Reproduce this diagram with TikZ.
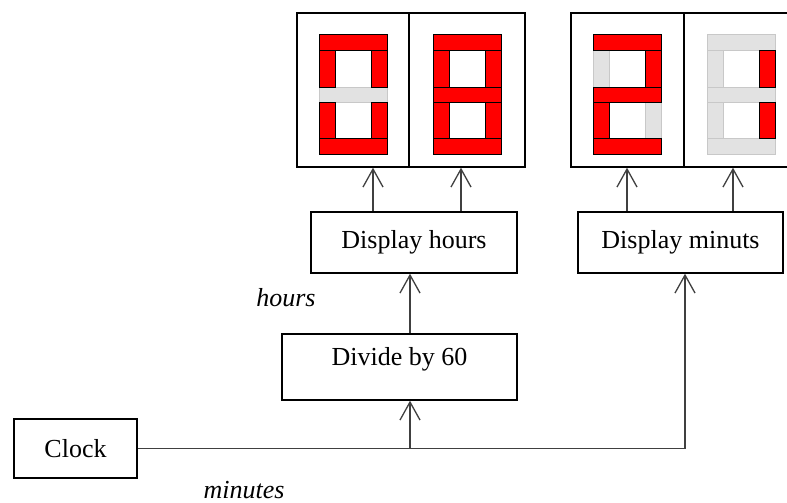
\documentclass[tikz,border=0pt]{standalone}
\usepackage{fontspec}
\setmainfont{Liberation Serif}
\usetikzlibrary{arrows.meta}
\definecolor{segred}{RGB}{255,0,0}
\definecolor{segoffc}{RGB}{226,226,226}
\definecolor{segoffb}{RGB}{200,200,200}
\tikzset{
  box/.style={draw=black, line width=1.4pt, fill=white, inner sep=0pt, font=\fontsize{26}{30}\selectfont},
  panel/.style={draw=black, line width=1.4pt, fill=white, inner sep=0pt},
  arr/.style={draw=black!75, line width=1.5pt, -{Straight Barb[length=18pt,width=20pt,line width=1.3pt]}},
  wire/.style={draw=black!75, line width=1.5pt},
  lbl/.style={font=\fontsize{26}{30}\selectfont\itshape},
  segon/.style={fill=segred, draw=black, line width=0.8pt},
  segoff/.style={fill=segoffc, draw=segoffb, line width=0.8pt}
}
% one segment: #1 flag, #2 pass (0 = off pass, 1 = on pass), corners #3..#6
\newcommand\oneseg[6]{\ifnum#1=#2 \ifnum#1=1 \filldraw[segon] (#3,#4) rectangle (#5,#6);\else \filldraw[segoff] (#3,#4) rectangle (#5,#6);\fi\fi}
% segments of a digit in one pass: #1 pass, #2 x0, #3 y0, #4..#9 flags top,UL,UR,mid,LL,LR ; bottom via \segbot
\newcommand\segpass[9]{%
  \oneseg{#4}{#1}{#2}{#3}{#2+68}{#3+16}%
  \oneseg{#5}{#1}{#2}{#3+16}{#2+16}{#3+53}%
  \oneseg{#6}{#1}{#2+52}{#3+16}{#2+68}{#3+53}%
  \oneseg{#7}{#1}{#2}{#3+53}{#2+68}{#3+68}%
  \oneseg{#8}{#1}{#2}{#3+68}{#2+16}{#3+104}%
  \oneseg{#9}{#1}{#2+52}{#3+68}{#2+68}{#3+104}%
}
\newcommand\segbot[4]{\oneseg{#4}{#1}{#2}{#3+104}{#2+68}{#3+120}}
\newcommand\digitseg[9]{%
  \segpass{0}{#1}{#2}{#3}{#4}{#5}{#6}{#7}{#8}\segbot{0}{#1}{#2}{#9}%
  \segpass{1}{#1}{#2}{#3}{#4}{#5}{#6}{#7}{#8}\segbot{1}{#1}{#2}{#9}%
}
\begin{document}
\begin{tikzpicture}[x=1pt,y=-1pt]
\useasboundingbox (0,0) rectangle (787,503);
\clip (0,0) rectangle (787,503);
\fill[white] (0,0) rectangle (787,503);
% display panels
\node[panel, minimum width=112pt, minimum height=154pt] (p1) at (353,90) {};
\node[panel, minimum width=116pt, minimum height=154pt] (p2) at (467,90) {};
\node[panel, minimum width=113pt, minimum height=154pt] (p3) at (627.5,90) {};
\node[panel, minimum width=116pt, minimum height=154pt] (p4) at (742,90) {};
% digits: x0 y0 top UL UR mid LL LR bottom
\digitseg{319}{34}{1}{1}{1}{0}{1}{1}{1}
\digitseg{433}{34}{1}{1}{1}{1}{1}{1}{1}
\digitseg{593}{34}{1}{0}{1}{1}{1}{0}{1}
\digitseg{707}{34}{0}{0}{1}{0}{0}{1}{0}
% boxes
\node[box, minimum width=206pt, minimum height=61pt] (dh) at (414,242.5) {Display hours};
\node[box, minimum width=205pt, minimum height=61pt] (dm) at (680.5,242.5) {Display minuts};
\node[box, minimum width=235pt, minimum height=66pt] (dv) at (399.5,367) {};
\node[font=\fontsize{26}{30}\selectfont] (dvt) at (399.5,359) {Divide by 60};
\node[box, minimum width=123pt, minimum height=59pt] (clk) at (75.5,448.5) {Clock};
% labels
\node[lbl] (lh) at (286,298) {hours};
\node[lbl] (lm) at (244,490) {minutes};
% connectors
\coordinate (j) at (410,448.5);
\draw[wire] (clk.east) -- (j);
\draw[arr] (j) -| ([xshift=4.5pt]dm.south);
\draw[arr] (j) -- (j |- dv.south);
\draw[arr] (dv.north -| j) -- (j |- dh.south);
\draw[arr] ([xshift=-41pt]dh.north) -- ([xshift=-41pt]dh.north |- p1.south);
\draw[arr] ([xshift=47pt]dh.north) -- ([xshift=47pt]dh.north |- p2.south);
\draw[arr] ([xshift=-53.5pt]dm.north) -- ([xshift=-53.5pt]dm.north |- p3.south);
\draw[arr] ([xshift=52.5pt]dm.north) -- ([xshift=52.5pt]dm.north |- p4.south);
\end{tikzpicture}
\end{document}
